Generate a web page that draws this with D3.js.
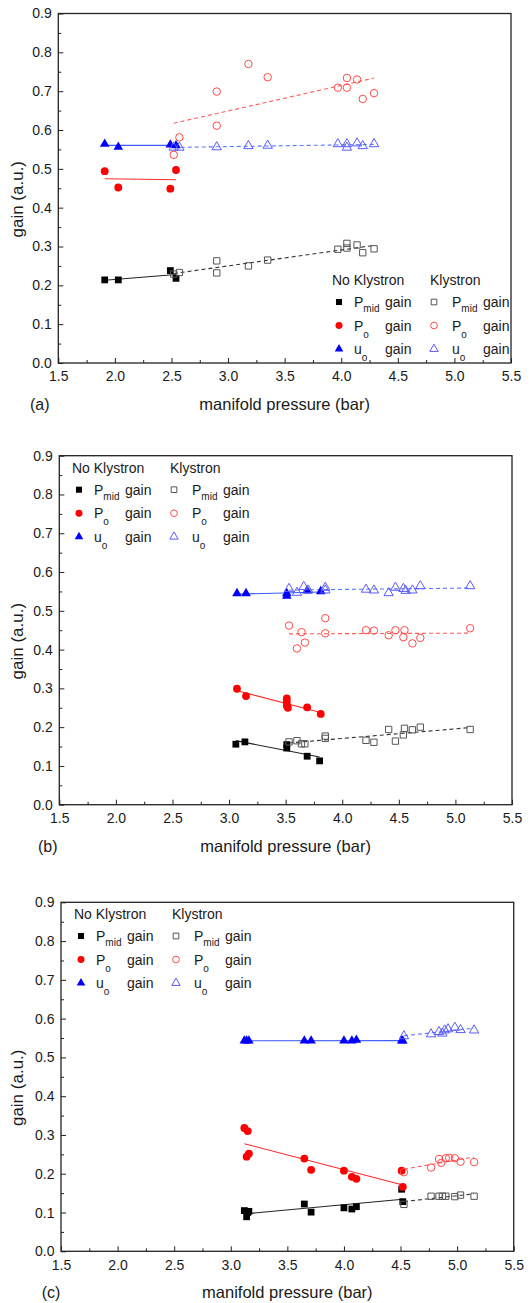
<!DOCTYPE html>
<html>
<head>
<meta charset="utf-8">
<script src="https://cdn.jsdelivr.net/npm/d3@7"></script>
<style>
  body { margin: 0; background: #fff; }
  svg { display: block; }
  text { font-family: "Liberation Sans", Arial, sans-serif; fill: #1a1a1a; }
</style>
</head>
<body>
<svg id="chart" width="531" height="1303"></svg>
<script>
// ---- axis ticks ----
const xTicks = [1.5, 2.0, 2.5, 3.0, 3.5, 4.0, 4.5, 5.0, 5.5];
const yTicks = [0.0, 0.1, 0.2, 0.3, 0.4, 0.5, 0.6, 0.7, 0.8, 0.9];
const xMinorTicks = [1.75, 2.25, 2.75, 3.25, 3.75, 4.25, 4.75, 5.25];
const yMinorTicks = [0.05, 0.15, 0.25, 0.35, 0.45, 0.55, 0.65, 0.75, 0.85];

// ---- legend entries ----
const legendHeads = ["No Klystron", "Klystron"];
const legendNames = [["P", "mid"], ["P", "o"], ["u", "o"]];

// ---- panel (a): [manifold pressure (bar), gain] ----
const aPmidNoK = [[1.91,0.214],[2.03,0.214],[2.49,0.238],[2.54,0.218]];
const aPoNoK   = [[1.91,0.494],[2.03,0.452],[2.49,0.449],[2.54,0.497]];
const aUoNoK   = [[1.91,0.564],[2.03,0.556],[2.49,0.562],[2.54,0.560]];
const aPmidK   = [[2.52,0.229],[2.57,0.233],[2.90,0.263],[2.90,0.232],[3.18,0.250],[3.35,0.265],
                  [3.97,0.293],[4.05,0.308],[4.05,0.296],[4.14,0.304],[4.19,0.284],[4.29,0.294]];
const aPoK     = [[2.52,0.536],[2.57,0.581],[2.90,0.699],[2.90,0.611],[3.18,0.770],[3.35,0.736],
                  [3.97,0.709],[4.05,0.734],[4.05,0.709],[4.14,0.730],[4.19,0.680],[4.29,0.695]];
const aUoK     = [[2.52,0.555],[2.57,0.555],[2.90,0.556],[3.18,0.559],[3.35,0.560],[3.97,0.564],
                  [4.05,0.564],[4.05,0.555],[4.14,0.566],[4.19,0.559],[4.29,0.564]];

// ---- panel (b) ----
const bPmidNoK = [[3.06,0.156],[3.14,0.162],[3.51,0.146],[3.51,0.155],[3.69,0.125],[3.80,0.113]];
const bPoNoK   = [[3.07,0.299],[3.15,0.280],[3.51,0.274],[3.51,0.265],[3.51,0.255],[3.52,0.250],
                  [3.69,0.251],[3.81,0.234]];
const bUoNoK   = [[3.07,0.545],[3.15,0.545],[3.51,0.545],[3.51,0.538],[3.69,0.552],[3.81,0.550]];
const bPmidK   = [[3.53,0.162],[3.60,0.165],[3.64,0.157],[3.67,0.157],[3.85,0.177],[3.85,0.171],
                  [4.21,0.166],[4.28,0.161],[4.41,0.194],[4.47,0.164],[4.54,0.180],[4.55,0.197],
                  [4.62,0.193],[4.69,0.200],[5.13,0.194]];
const bPoK     = [[3.53,0.462],[3.60,0.403],[3.64,0.445],[3.67,0.418],[3.85,0.481],[3.85,0.442],
                  [4.21,0.450],[4.28,0.449],[4.41,0.437],[4.47,0.450],[4.54,0.432],[4.55,0.450],
                  [4.62,0.416],[4.69,0.430],[5.13,0.455]];
const bUoK     = [[3.53,0.557],[3.60,0.547],[3.66,0.562],[3.70,0.553],[3.85,0.560],[3.85,0.553],
                  [4.21,0.555],[4.28,0.553],[4.41,0.546],[4.47,0.560],[4.54,0.557],[4.56,0.552],
                  [4.62,0.553],[4.69,0.564],[5.13,0.564]];

// ---- panel (c) ----
const cPmidNoK = [[3.12,0.105],[3.14,0.089],[3.15,0.100],[3.16,0.103],[3.65,0.122],[3.71,0.101],
                  [4.00,0.112],[4.07,0.109],[4.11,0.115],[4.51,0.160],[4.52,0.128]];
const cPoNoK   = [[3.12,0.318],[3.15,0.310],[3.14,0.244],[3.16,0.252],[3.65,0.239],[3.71,0.210],
                  [4.00,0.208],[4.07,0.192],[4.11,0.187],[4.51,0.208],[4.52,0.166]];
const cUoNoK   = [[3.12,0.543],[3.14,0.543],[3.16,0.543],[3.65,0.543],[3.71,0.543],[4.00,0.543],
                  [4.07,0.543],[4.11,0.545],[4.51,0.543],[4.52,0.543]];
const cPmidK   = [[4.53,0.121],[4.77,0.142],[4.84,0.142],[4.87,0.142],[4.90,0.142],[4.98,0.141],
                  [5.03,0.145],[5.15,0.142]];
const cPoK     = [[4.53,0.204],[4.77,0.216],[4.84,0.238],[4.86,0.228],[4.90,0.240],[4.93,0.241],
                  [4.98,0.240],[5.03,0.231],[5.15,0.230]];
const cUoK     = [[4.53,0.555],[4.77,0.560],[4.84,0.566],[4.87,0.562],[4.89,0.570],[4.92,0.573],
                  [4.98,0.577],[5.03,0.571],[5.15,0.570]];

// marker / fit-line styles, in series order: Pmid, Po, uo (no klystron), then Pmid, Po, uo (klystron)
const styles = [
  { shape: d3.symbolSquare,   size: 46, fill: "#000",    stroke: "none",    line: "#222",    dash: null },
  { shape: d3.symbolCircle,   size: 48, fill: "#ff0000", stroke: "none",    line: "#ff2a2a", dash: null },
  { shape: d3.symbolTriangle, size: 40, fill: "#0000ff", stroke: "none",    line: "#3d5cff", dash: null },
  { shape: d3.symbolSquare,   size: 40, fill: "none",    stroke: "#555",    line: "#333",    dash: "4,3" },
  { shape: d3.symbolCircle,   size: 44, fill: "none",    stroke: "#ff4a4a", line: "#ff5a5a", dash: "4,3" },
  { shape: d3.symbolTriangle, size: 38, fill: "none",    stroke: "#5a5aff", line: "#5a78ff", dash: "4,3" }
];

const panels = [
  { series: [aPmidNoK, aPoNoK, aUoNoK, aPmidK, aPoK, aUoK],
    box: { l: 58.3, t: 13.5, r: 511, b: 363 }, tag: "(a)", tagX: 30, legend: { x: 332, y: 280 } },
  { series: [bPmidNoK, bPoNoK, bUoNoK, bPmidK, bPoK, bUoK],
    box: { l: 59.3, t: 455.7, r: 512, b: 804.7 }, tag: "(b)", tagX: 38, legend: { x: 72, y: 467.7 } },
  { series: [cPmidNoK, cPoNoK, cUoNoK, cPmidK, cPoK, cUoK],
    box: { l: 61, t: 902.3, r: 513.7, b: 1251.3 }, tag: "(c)", tagX: 41.7, legend: { x: 74, y: 914 } }
];

// least-squares straight line through one series
function linearFit(pts) {
  const mx = d3.mean(pts, d => d[0]), my = d3.mean(pts, d => d[1]);
  let sxy = 0, sxx = 0;
  pts.forEach(([px, py]) => { sxy += (px - mx) * (py - my); sxx += (px - mx) * (px - mx); });
  const k = sxx ? sxy / sxx : 0;
  const [x0, x1] = d3.extent(pts, d => d[0]);
  return [[x0, my + k * (x0 - mx)], [x1, my + k * (x1 - mx)]];
}

const svg = d3.select("#chart");

panels.forEach(p => {
  const { l, t, r, b } = p.box;
  const x = d3.scaleLinear().domain([1.5, 5.5]).range([l, r]);
  const y = d3.scaleLinear().domain([0, 0.9]).range([b, t]);
  const g = svg.append("g");

  // minor ticks
  g.append("g").attr("transform", `translate(0,${b})`)
    .call(d3.axisBottom(x).tickValues(xMinorTicks).tickSize(-3).tickFormat(""))
    .call(s => s.select(".domain").remove())
    .selectAll("line").attr("stroke", "#222").attr("stroke-width", 1);
  g.append("g").attr("transform", `translate(${l},0)`)
    .call(d3.axisLeft(y).tickValues(yMinorTicks).tickSize(-3).tickFormat(""))
    .call(s => s.select(".domain").remove())
    .selectAll("line").attr("stroke", "#222").attr("stroke-width", 1);

  // major ticks + labels
  const xa = g.append("g").attr("transform", `translate(0,${b})`)
    .call(d3.axisBottom(x).tickValues(xTicks).tickSize(-5).tickPadding(8.5).tickFormat(d3.format(".1f")));
  const ya = g.append("g").attr("transform", `translate(${l},0)`)
    .call(d3.axisLeft(y).tickValues(yTicks).tickSize(-5).tickPadding(6.5).tickFormat(d3.format(".1f")));
  [xa, ya].forEach(a => {
    a.select(".domain").remove();
    a.selectAll("line").attr("stroke", "#222").attr("stroke-width", 1);
    a.selectAll("text").attr("font-family", null).attr("font-size", 14).style("fill", "#1a1a1a");
  });

  // frame
  g.append("rect").attr("x", l).attr("y", t).attr("width", r - l).attr("height", b - t)
    .attr("fill", "none").attr("stroke", "#222").attr("stroke-width", 1.3);

  // fit lines
  p.series.forEach((s, i) => {
    const st = styles[i];
    const fit = linearFit(s);
    g.append("line")
      .attr("x1", x(fit[0][0])).attr("y1", y(fit[0][1]))
      .attr("x2", x(fit[1][0])).attr("y2", y(fit[1][1]))
      .attr("stroke", st.line).attr("stroke-width", 1.1)
      .attr("stroke-dasharray", st.dash);
  });

  // markers
  p.series.forEach((s, i) => {
    const st = styles[i];
    const sym = d3.symbol().type(st.shape).size(st.size);
    g.append("g").selectAll("path").data(s).join("path")
      .attr("d", sym)
      .attr("transform", d => `translate(${x(d[0])},${y(d[1])})`)
      .attr("fill", st.fill).attr("stroke", st.stroke).attr("stroke-width", 1);
  });

  // axis titles
  g.append("text").attr("x", (l + r) / 2).attr("y", b + 47)
    .attr("text-anchor", "middle").attr("font-size", 16.5).text("manifold pressure (bar)");
  g.append("text").attr("transform", `translate(23,${(t + b) / 2 + 11}) rotate(-90)`)
    .attr("text-anchor", "middle").attr("font-size", 17).text("gain (a.u.)");
  g.append("text").attr("x", p.tagX).attr("y", b + 47).attr("font-size", 16).text(p.tag);

  // legend
  const lg = g.append("g").attr("transform", `translate(${p.legend.x},${p.legend.y})`);
  legendHeads.forEach((h, c) => {
    lg.append("text").attr("x", c * 98).attr("y", 5).attr("font-size", 14).text(h);
  });
  legendNames.forEach((nm, rIdx) => {
    const ry = 22 + rIdx * 23.5;
    [0, 1].forEach(c => {
      const st = styles[c * 3 + rIdx];
      const ox = c * 98;
      const mx = c === 0 ? 7 : 4;
      lg.append("path")
        .attr("d", d3.symbol().type(st.shape).size(st.size * 0.8)())
        .attr("transform", `translate(${ox + mx},${ry})`)
        .attr("fill", st.fill).attr("stroke", st.stroke).attr("stroke-width", 1);
      const tx = lg.append("text").attr("x", ox + 22).attr("y", ry + 5).attr("font-size", 14);
      tx.append("tspan").text(nm[0]);
      tx.append("tspan").attr("font-size", 10).attr("dy", nm[1] === "mid" ? 5 : 7).text(nm[1]);
      lg.append("text").attr("x", ox + 53).attr("y", ry + 5).attr("font-size", 14).text("gain");
    });
  });
});
</script>
</body>
</html>
